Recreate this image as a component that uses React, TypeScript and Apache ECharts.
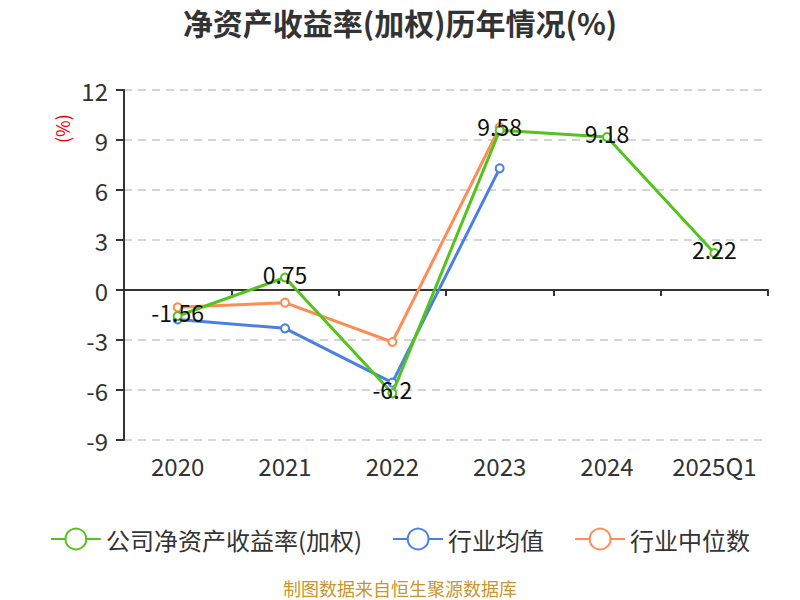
import React, { useEffect, useRef } from "react";
import * as echarts from "echarts";

const categories = ["2020", "2021", "2022", "2023", "2024", "2025Q1"];
const companyRoe = [-1.56, 0.75, -6.2, 9.58, 9.18, 2.22];
const industryAvg = [-1.77, -2.3, -5.56, 7.3, null, null];
const industryMedian = [-1.04, -0.76, -3.12, 9.76, null, null];
const yTicks = { min: -9, max: 12, interval: 3 };

const FONT = "'Noto Sans CJK SC', 'Noto Sans', sans-serif";

export default function App() {
  const ref = useRef<HTMLDivElement>(null);
  useEffect(() => {
    document.body.style.margin = "0";
    const chart = echarts.init(ref.current!, null, { renderer: "svg" });
    chart.setOption({
      animation: false,
      textStyle: { fontFamily: FONT },
      title: {
        text: "净资产收益率(加权)历年情况(%)",
        left: "center",
        top: 2,
        textStyle: { fontSize: 30, fontWeight: "bold", color: "#333", fontFamily: FONT },
      },
      legend: {
        top: 522,
        left: "center",
        itemWidth: 50,
        itemHeight: 26,
        itemGap: 30,
        textStyle: { fontSize: 24, color: "#333", fontFamily: FONT },
        data: ["公司净资产收益率(加权)", "行业均值", "行业中位数"],
      },
      grid: { left: 124, right: 32, top: 90, bottom: 160 },
      xAxis: [
        {
          type: "category",
          data: categories,
          axisLine: { onZero: true, lineStyle: { color: "#333", width: 2 } },
          axisTick: { show: true, length: 6, lineStyle: { color: "#333", width: 2 } },
          axisLabel: { show: false },
        },
        {
          type: "category",
          data: categories,
          position: "bottom",
          axisLine: { show: false, onZero: false },
          axisTick: { show: false },
          axisLabel: { interval: 0, fontSize: 24, color: "#333", margin: 13, fontFamily: FONT },
        },
      ],
      yAxis: {
        type: "value",
        min: yTicks.min,
        max: yTicks.max,
        interval: yTicks.interval,
        axisLine: { show: true, lineStyle: { color: "#333", width: 2 } },
        axisTick: { show: true, length: 8, lineStyle: { color: "#333", width: 2 } },
        axisLabel: { fontSize: 24, color: "#333", margin: 16, fontFamily: FONT },
        splitLine: { lineStyle: { color: "#c8c8c8", type: [8, 6], width: 1.5 } },
      },
      graphic: [
        {
          type: "text",
          x: 53,
          y: 143,
          rotation: Math.PI / 2,
          style: { text: "(%)", fill: "#e00", fontSize: 18, fontFamily: FONT },
        },
        {
          type: "text",
          left: "center",
          top: 579,
          style: { text: "制图数据来自恒生聚源数据库", fill: "#c8962d", fontSize: 18, fontFamily: FONT },
        },
      ],
      series: [
        {
          name: "公司净资产收益率(加权)",
          type: "line",
          data: companyRoe,
          color: "#52c41a",
          lineStyle: { width: 3 },
          symbol: "emptyCircle",
          symbolSize: 8,
          z: 3,
          label: {
            show: true,
            position: "inside",
            offset: [0, -4],
            color: "#111",
            fontSize: 23,
            fontFamily: FONT,
          },
        },
        {
          name: "行业均值",
          type: "line",
          data: industryAvg,
          color: "#4a80e4",
          lineStyle: { width: 3 },
          symbol: "emptyCircle",
          symbolSize: 8,
          z: 2,
        },
        {
          name: "行业中位数",
          type: "line",
          data: industryMedian,
          color: "#ff8c55",
          lineStyle: { width: 3 },
          symbol: "emptyCircle",
          symbolSize: 8,
          z: 2,
        },
      ],
    });
    return () => chart.dispose();
  }, []);
  return <div ref={ref} style={{ width: 800, height: 600 }} />;
}
